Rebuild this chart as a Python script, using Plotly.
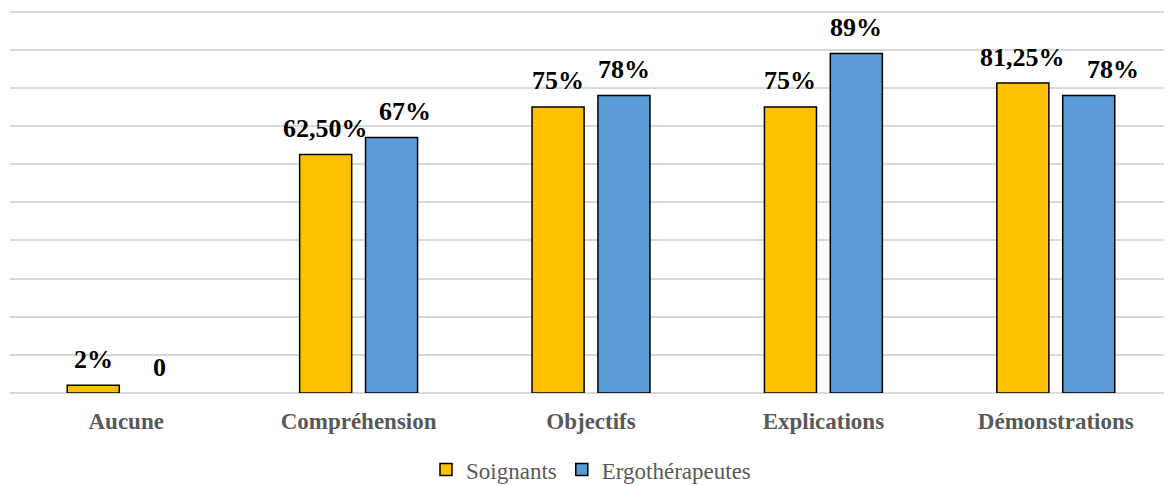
import plotly.graph_objects as go

categories = ["Aucune", "Compréhension", "Objectifs", "Explications", "Démonstrations"]
soignants = [2, 62.5, 75, 75, 81.25]
ergo = [0, 67, 78, 89, 78]
soignants_labels = ["2%", "62,50%", "75%", "75%", "81,25%"]
ergo_labels = ["0", "67%", "78%", "89%", "78%"]

FONT = "Liberation Serif"
YELLOW = "#FFC000"
BLUE = "#5B9BD5"

# label nudges (pixels) to mimic manual label placement in the original
soignants_nudge = [0, 0, 0, 0, 0]
ergo_nudge = [0, 13, 0, 0, 24]


def drawn(vals):
    # a zero-height bar is not drawn (no outline on the baseline)
    return [None if v == 0 else v for v in vals]


fig = go.Figure()
fig.add_trace(go.Bar(name="Soignants", x=categories, y=drawn(soignants),
                     marker=dict(color=YELLOW, line=dict(color="black", width=1.5))))
fig.add_trace(go.Bar(name="Ergothérapeutes", x=categories, y=drawn(ergo),
                     marker=dict(color=BLUE, line=dict(color="black", width=1.5))))

for labels, vals, shift, nudges in ((soignants_labels, soignants, -33, soignants_nudge),
                                    (ergo_labels, ergo, 33, ergo_nudge)):
    for c, v, t, n in zip(categories, vals, labels, nudges):
        fig.add_annotation(x=c, y=v, xref="x", yref="y", text=f"<b>{t}</b>",
                           showarrow=False, xshift=shift + n, yshift=26, yanchor="middle",
                           font=dict(family=FONT, size=26, color="black"))

fig.update_layout(
    width=1164, height=478,
    margin=dict(l=2, r=0, t=2, b=93, autoexpand=False),
    paper_bgcolor="white", plot_bgcolor="white",
    barmode="group", bargap=0.433, bargroupgap=0.21,
    font=dict(family=FONT),
    showlegend=True,
    legend=dict(orientation="h", x=0.5, xanchor="center", y=-0.2, yanchor="middle",
                font=dict(family=FONT, size=23, color="#595959"),
                itemwidth=30, traceorder="normal"),
    xaxis=dict(showgrid=False, showline=False, ticks="", automargin=False,
               tickfont=dict(family=FONT, size=23, color="#595959", weight="bold"),
               ticklabelstandoff=12),
    yaxis=dict(range=[0, 100.4], tick0=0, dtick=10, showticklabels=False, showgrid=True,
               automargin=False,
               gridcolor="#D9D9D9", gridwidth=1.5, zeroline=True,
               zerolinecolor="#D9D9D9", zerolinewidth=1.5, showline=False),
)

fig.write_html("out.html")
